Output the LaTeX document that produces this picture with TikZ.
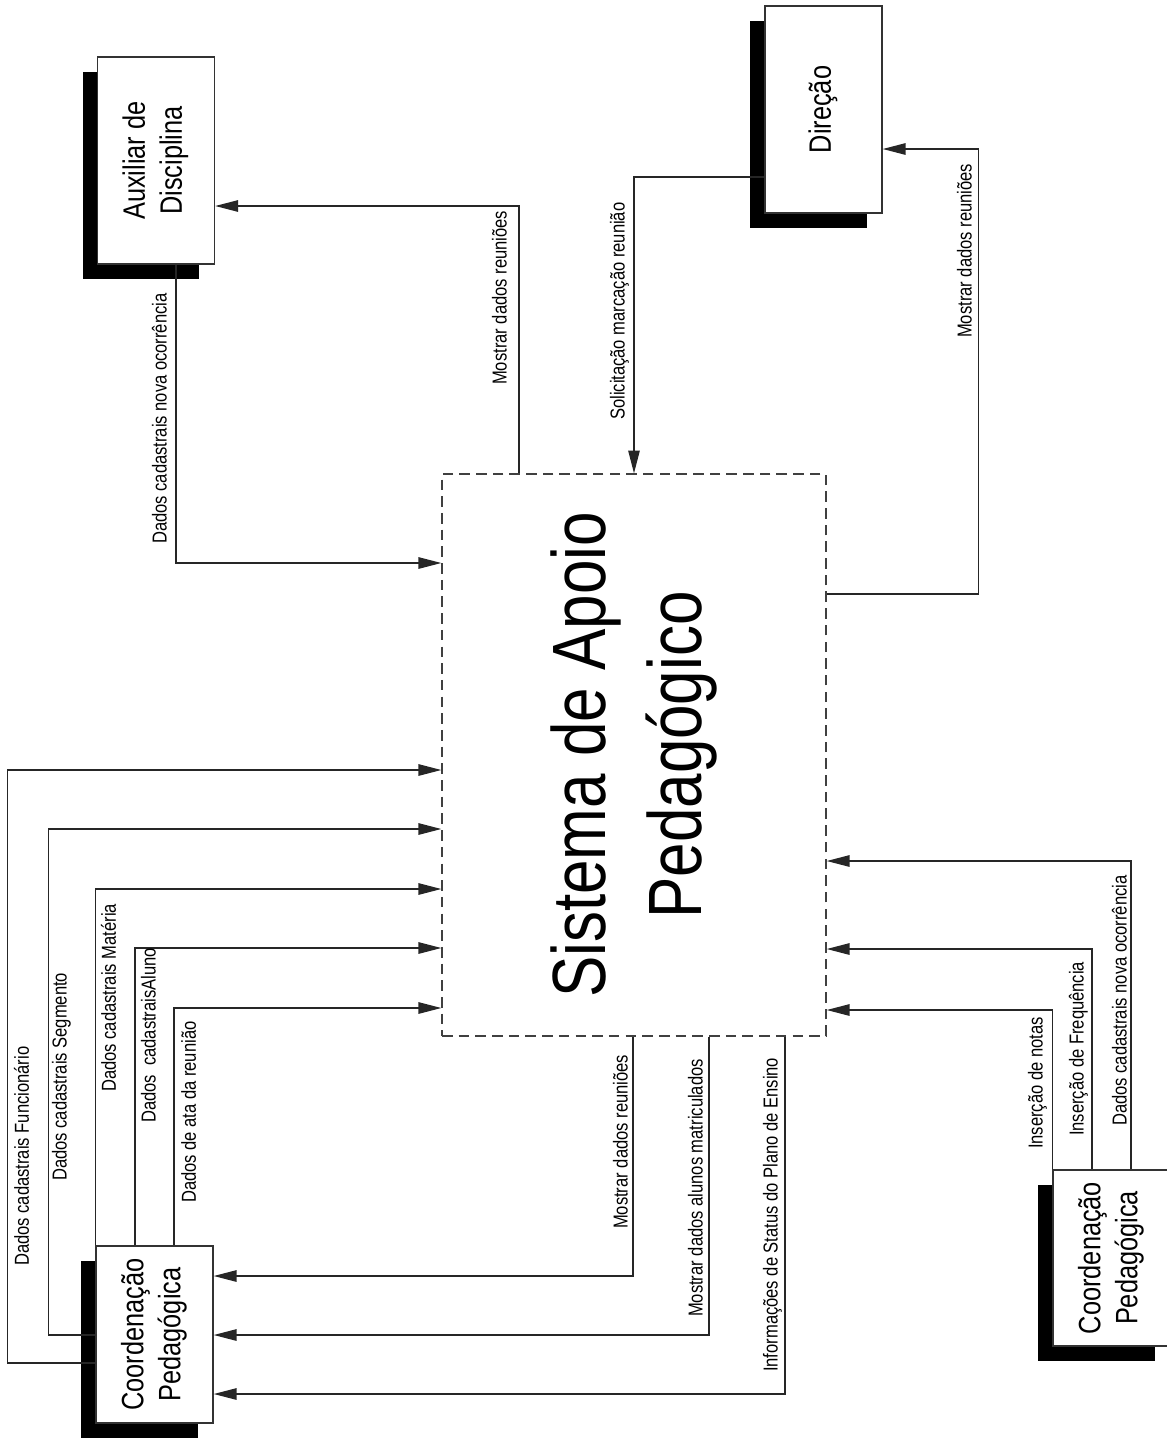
\documentclass[tikz,border=0pt]{standalone}
\usepackage{graphicx}
\usepackage{fontspec}
\setmainfont{Liberation Sans}[FakeStretch=0.82]
\usetikzlibrary{arrows.meta, shadows, positioning, calc}

\tikzset{
  entity/.style={draw=black!80, line width=0.8pt, fill=white, minimum width=2.34cm, minimum height=4.14cm, inner sep=0pt,
    drop shadow={shadow xshift=-0.3cm, shadow yshift=-0.3cm, fill=black, opacity=1},
    font=\fontsize{17.6}{21}\selectfont},
  system/.style={draw=black!75, dash pattern=on 6pt off 3.5pt, line width=0.8pt, minimum width=7.68cm, minimum height=11.24cm,
    inner sep=0pt, font=\fontsize{43}{55}\selectfont},
  flow/.style={draw=black!85, line width=0.8pt, -{Triangle[length=13pt,width=6.5pt]}},
  lbl/.style={rotate=90, inner sep=1pt, font=\fontsize{11.5}{13}\selectfont}
}
\newcommand{\vtext}[1]{\rotatebox{90}{\begin{tabular}{@{}c@{}}#1\end{tabular}}}

\begin{document}
\begin{tikzpicture}[x=0.02cm, y=-0.02cm]
    \useasboundingbox (0,0) rectangle (1167,1441);

    % System and external entities
    \node[system] (sys) at (634,755) {\vtext{Sistema de Apoio\\Pedagógico}};
    \node[entity] (aux) at (156,160.5) {\vtext{Auxiliar de\\Disciplina}};
    \node[entity] (dir) at (823.5,109.5) {\vtext{Direção}};
    \node[entity, minimum height=3.54cm] (cpL) at (154.5,1334.5) {\vtext{Coordenação\\Pedagógica}};
    \node[entity, minimum height=3.52cm] (cpR) at (1111.5,1258) {\vtext{Coordenação\\Pedagógica}};

    % Auxiliar de Disciplina
    \draw[flow] ([xshift=0.4cm]aux.south) |- (sys.west |- 0,563);
    \draw[flow] (sys.north -| 519,0) |- (aux.east |- 0,206);
    \node[lbl, anchor=south west] (tA1) at (169,546) {Dados cadastrais nova ocorrência};
    \node[lbl, anchor=south west] (tA2) at (509,387) {Mostrar dados reuniões};

    % Direcao
    \draw[flow] (dir.west |- 0,177) -| (sys.north -| 634,0);
    \draw[flow] (sys.east |- 0,594) -- ++(152,0) |- (dir.east |- 0,149);
    \node[lbl, anchor=south west] (tD1) at (631,422) {Solicitação marcação reunião};
    \node[lbl, anchor=south west] (tD2) at (974,340) {Mostrar dados reuniões};

    % Coordenacao (left) -> sistema
    \draw[flow] (cpL.west |- 0,1363) -- ++(-88,0) |- (sys.west |- 0,770);
    \draw[flow] (cpL.west |- 0,1335) -- ++(-47,0) |- (sys.west |- 0,829);
    \draw[flow] (cpL.north west) |- (sys.west |- 0,889);
    \draw[flow] (cpL.north -| 135,0) |- (sys.west |- 0,948);
    \draw[flow] (cpL.north -| 174,0) |- (sys.west |- 0,1008);
    \node[lbl, anchor=north west] (tL1) at (12,1268) {Dados cadastrais Funcionário};
    \node[lbl, anchor=north west] (tL2) at (50,1183) {Dados cadastrais Segmento};
    \node[lbl, anchor=north west] (tL3) at (99,1094) {Dados cadastrais Matéria};
    \node[lbl, anchor=north west] (tL4) at (139,1125) {Dados~ cadastraisAluno};
    \node[lbl, anchor=north west] (tL5) at (179,1205) {Dados de ata da reunião};

    % sistema -> Coordenacao (left)
    \draw[flow] (sys.south -| 633,0) |- (cpL.east |- 0,1276);
    \draw[flow] (sys.south -| 709,0) |- (cpL.east |- 0,1335);
    \draw[flow] (sys.south -| 785,0) |- (cpL.east |- 0,1394);
    \node[lbl, anchor=south west] (tB1) at (630,1231) {Mostrar dados reuniões};
    \node[lbl, anchor=south west] (tB2) at (705,1319) {Mostrar dados alunos matriculados};
    \node[lbl, anchor=south west] (tB3) at (784,1374) {Informações de Status do Plano de Ensino};

    % Coordenacao (right) -> sistema
    \draw[flow] (cpR.north west) |- (sys.east |- 0,1010);
    \draw[flow] (cpR.north -| 1092,0) |- (sys.east |- 0,949);
    \draw[flow] (cpR.north -| 1131,0) |- (sys.east |- 0,861);
    \node[lbl, anchor=south west] (tR1) at (1049,1151) {Inserção de notas};
    \node[lbl, anchor=south west] (tR2) at (1090,1138) {Inserção de Frequência};
    \node[lbl, anchor=south west] (tR3) at (1129,1128) {Dados cadastrais nova ocorrência};
\end{tikzpicture}
\end{document}
